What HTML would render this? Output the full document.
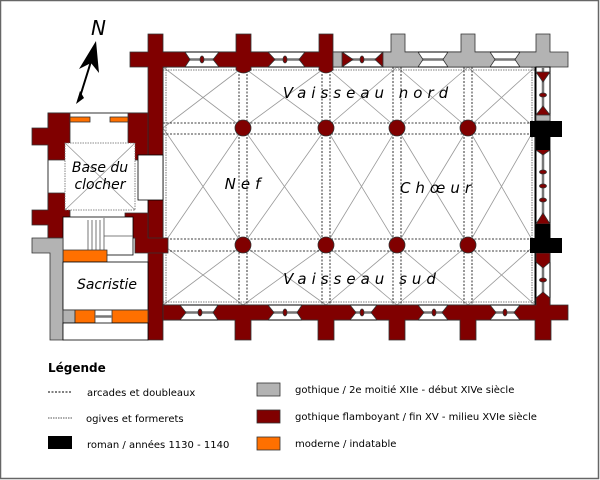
<!DOCTYPE html>
<html><head><meta charset="utf-8"><style>
html,body{margin:0;padding:0;background:#fff}
svg{display:block}
text{font-family:"DejaVu Sans","Liberation Sans",sans-serif}
</style></head><body>
<svg width="600" height="480" viewBox="0 0 600 480" xmlns="http://www.w3.org/2000/svg">
<rect x="0.5" y="0.5" width="598" height="478" fill="#fff" stroke="#666" stroke-width="1.5"/>
<rect x="163" y="67" width="372" height="238" fill="#fff" stroke="#000" stroke-width="1"/>
<g stroke="#999" stroke-width="0.8">
<path d="M163,67L243,128M243,67L163,128M243,67L326,128M326,67L243,128M326,67L397,128M397,67L326,128M397,67L468,128M468,67L397,128M468,67L535,128M535,67L468,128"/>
<path d="M163,128L243,245M243,128L163,245M243,128L326,245M326,128L243,245M326,128L397,245M397,128L326,245M397,128L468,245M468,128L397,245M468,128L535,245M535,128L468,245"/>
<path d="M163,245L243,305M243,245L163,305M243,245L326,305M326,245L243,305M326,245L397,305M397,245L326,305M397,245L468,305M468,245L397,305M468,245L535,305M535,245L468,305"/>
</g>
<g stroke="#000" stroke-width="0.8" stroke-dasharray="2,1.5" fill="none">
<path d="M163,123H535M163,134H535M163,239H535M163,251H535"/>
<path d="M239,67V305M247,67V305M322,67V305M330,67V305M393,67V305M401,67V305M464,67V305M472,67V305"/>
<path d="M166,67V305M532,67V305M163,70H535M163,302H535" stroke="#555" stroke-dasharray="1.5,1"/>
</g>
<g fill="#800000" stroke="#333" stroke-width="0.8">
<circle cx="243" cy="128" r="8"/><circle cx="326" cy="128" r="8"/><circle cx="397" cy="128" r="8"/><circle cx="468" cy="128" r="8"/>
<circle cx="243" cy="245" r="8"/><circle cx="326" cy="245" r="8"/><circle cx="397" cy="245" r="8"/><circle cx="468" cy="245" r="8"/>
</g>
<rect x="163" y="52" width="387" height="15" fill="#fff" stroke="#000"/>
<path d="M175,59.5H545" stroke="#777" stroke-width="2.5"/>
<g fill="#800000" stroke="#333" stroke-width="0.8">
<ellipse cx="202" cy="59.5" rx="2" ry="3.5"/><ellipse cx="285" cy="59.5" rx="2" ry="3.5"/><ellipse cx="362" cy="59.5" rx="2" ry="3.5"/>
<path d="M148,34H163V52H185L190,59.5L185,67H163V340H148V67H130V52H148Z"/>
<path d="M236,34H251V52H268L275,59.5L268,67H251V70Q243,76 236,70V67H219L213,59.5L219,52H236Z"/>
<path d="M319,34H333V52H333V67V70Q326,76 319,70V67H305L299,59.5L305,52H319Z"/>
<path d="M342,52L353,59.5L342,67Z M383,52L375,59.5L383,67Z"/>
</g>
<g fill="#b3b3b3" stroke="#333" stroke-width="0.8">
<rect x="333" y="52" width="9" height="15"/>
<path d="M391,34H405V52H418L423,59.5L418,67H383V52H391Z"/>
<path d="M461,34H475V52H490L495,59.5L490,67H448L443,59.5L448,52H461Z"/>
<path d="M536,34H550V52H568V67H550V72H536V67H520L515,59.5L520,52H536Z"/>
</g>
<rect x="536" y="67" width="14" height="253" fill="#fff" stroke="#000"/>
<path d="M543,67V305" stroke="#777" stroke-width="2.5"/>
<g fill="#800000" stroke="#333" stroke-width="0.8">
<path d="M536,72H550L543,82Z M536,115L543,106L550,115Z"/>
<path d="M536,137H550V150L543,155L536,150Z"/>
<path d="M536,224L543,213L550,224Z"/>
<path d="M536,253H550V262L543,268L536,262Z"/>
<ellipse cx="543" cy="95" rx="3.5" ry="2"/><ellipse cx="543" cy="172" rx="3.5" ry="2"/><ellipse cx="543" cy="186" rx="3.5" ry="2"/><ellipse cx="543" cy="200" rx="3.5" ry="2"/><ellipse cx="543" cy="280" rx="3.5" ry="2"/>
</g>
<rect x="536" y="115" width="14" height="6" fill="#b3b3b3" stroke="#333" stroke-width="0.8"/>
<g fill="#000"><path d="M536,121H562V137H550V150H536V137H530V121H536Z"/><path d="M536,224H550V238H562V253H530V238H536Z"/></g>
<rect x="163" y="305" width="387" height="15" fill="#fff" stroke="#000"/>
<path d="M163,312.5H545" stroke="#777" stroke-width="2.5"/>
<g fill="#800000" stroke="#333" stroke-width="0.8">
<path d="M163,305H180L186,312.5L180,320H163Z"/>
<ellipse cx="200" cy="312.5" rx="2" ry="3.5"/><ellipse cx="285" cy="312.5" rx="2" ry="3.5"/><ellipse cx="362" cy="312.5" rx="2" ry="3.5"/><ellipse cx="434" cy="312.5" rx="2" ry="3.5"/><ellipse cx="505" cy="312.5" rx="2" ry="3.5"/>
<path d="M218,305H268L274,312.5L268,320H251V340H235V320H218L213,312.5Z"/>
<path d="M302,305H350L356,312.5L350,320H334V340H318V320H302L297,312.5Z"/>
<path d="M377,305H418L424,312.5L418,320H405V340H389V320H377L371,312.5Z"/>
<path d="M448,305H490L496,312.5L490,320H476V340H460V320H448L442,312.5Z"/>
<path d="M536,305V298L543,292L550,298V305H568V320H551V340H535V320H520L514,312.5L520,305Z"/>
</g>
<g stroke="#333" stroke-width="0.8">
<rect x="48" y="113" width="100" height="125" fill="#fff" stroke="#000"/>
<path fill="#800000" d="M48,113H70V128V140H70V160H48V145H32V128H48Z"/>
<path fill="#800000" d="M48,193H70V238H48V225H32V210H48Z"/>
<path fill="#800000" d="M128,113H148V155H138V160H128Z"/>
<path fill="#800000" d="M125,213H148V238H168V253H135V238H125Z"/>
<rect x="70" y="117" width="20" height="5" fill="#ff7000"/>
<rect x="110" y="117" width="18" height="5" fill="#ff7000"/>
<rect x="65" y="143" width="70" height="67" fill="#fff" stroke="#666" stroke-dasharray="1.5,1"/>
<path d="M65,143L135,210M135,143L65,210" stroke="#999"/>
<rect x="138" y="155" width="25" height="45" fill="#fff" stroke="#000"/>
<rect x="63" y="217" width="70" height="38" fill="#fff" stroke="#000"/>
<path d="M88,220V255M92,220V255M96,220V255M100,220V255M104,218V255M133,236H104" stroke="#555" fill="none"/>
<path d="M63,250H107V262H63Z" fill="#ff7000"/>
<path d="M32,238H63V253H63V340H50V253H32Z" fill="#b3b3b3"/>
<rect x="63" y="262" width="85" height="48" fill="#fff" stroke="#000"/>
<rect x="63" y="310" width="12" height="13" fill="#b3b3b3"/>
<rect x="75" y="310" width="20" height="13" fill="#ff7000"/>
<rect x="112" y="310" width="36" height="13" fill="#ff7000"/>
<path d="M95,316.5H112" stroke="#777" stroke-width="2.5"/>
<rect x="63" y="323" width="85" height="17" fill="#fff" stroke="#000"/>
</g>
<path d="M79,100L93,55" stroke="#000" stroke-width="2"/>
<path d="M96,41L79,69L91,63L99,73Z" fill="#000"/>
<path d="M76,104L80,91L84,98Z" fill="#000"/>
<text x="91" y="35" font-family="Liberation Serif,serif" font-style="italic" font-size="20">N</text>
<g font-style="italic" font-size="15" fill="#000">
<text x="368" y="98" text-anchor="middle" letter-spacing="5">Vaisseau nord</text>
<text x="245" y="189" text-anchor="middle" letter-spacing="5">Nef</text>
<text x="438" y="193" text-anchor="middle" letter-spacing="5">Chœur</text>
<text x="362" y="284" text-anchor="middle" letter-spacing="5">Vaisseau sud</text>
<text x="100" y="172" text-anchor="middle" font-size="14">Base du</text>
<text x="100" y="189" text-anchor="middle" font-size="14">clocher</text>
<text x="107" y="289" text-anchor="middle" font-size="14">Sacristie</text>
</g>
<text x="48" y="372" font-size="12" font-weight="bold">Légende</text>
<g font-size="10" fill="#000">
<path d="M48,392H72" stroke="#000" stroke-dasharray="2,1.5"/>
<text x="87" y="396">arcades et doubleaux</text>
<path d="M48,418H72" stroke="#555" stroke-dasharray="1.5,1"/>
<text x="86" y="422">ogives et formerets</text>
<rect x="48" y="436" width="24" height="13" fill="#000"/>
<text x="87" y="448">roman / années 1130 - 1140</text>
<rect x="257" y="383" width="23" height="13" fill="#b3b3b3" stroke="#333" stroke-width="0.8"/>
<text x="295" y="393">gothique / 2e moitié XIIe - début XIVe siècle</text>
<rect x="257" y="410" width="23" height="13" fill="#800000" stroke="#333" stroke-width="0.8"/>
<text x="295" y="420">gothique flamboyant / fin XV - milieu XVIe siècle</text>
<rect x="257" y="437" width="23" height="13" fill="#ff7000" stroke="#333" stroke-width="0.8"/>
<text x="295" y="447">moderne / indatable</text>
</g>
</svg>
</body></html>
